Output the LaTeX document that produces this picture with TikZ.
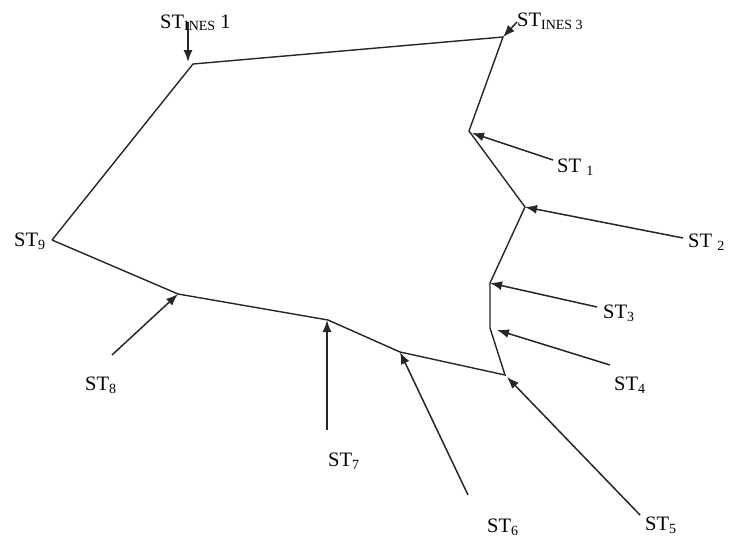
\documentclass[tikz,border=0pt]{standalone}
\usepackage{fontspec}
\setmainfont{Liberation Serif}
\usetikzlibrary{arrows.meta}
\newcommand\stsub[1]{\raisebox{-3pt}{\fontsize{14}{14}\selectfont #1}}
\begin{document}
\begin{tikzpicture}[x=1pt,y=-1pt,
  lbl/.style={anchor=base west,inner sep=0pt,font=\fontsize{20.5}{24}\selectfont},
  edge/.style={line width=1.4pt,line join=miter,draw=black!85},
  pointer/.style={line width=1.5pt,draw=black!85,-{Latex[length=12pt,width=9pt]}}]
\useasboundingbox (0,0) rectangle (738,546);
% vertices
\coordinate (A) at (193,64);
\coordinate (B) at (503,37);
\coordinate (C) at (469,131);
\coordinate (D) at (525,207);
\coordinate (E) at (490,283);
\coordinate (F) at (490,328);
\coordinate (G) at (505,375);
\coordinate (H) at (400,352);
\coordinate (I) at (328,320);
\coordinate (J) at (178,294);
\coordinate (K) at (52,240);
% outline
\draw[edge] (K) -- (A) -- (B) -- (C) -- (D) -- (E) -- (F) -- (G) -- (H) -- (I) -- (J) -- (K);
% labels
\node[lbl] (ines1) at (160,28) {ST\raisebox{-2pt}{\fontsize{14}{14}\selectfont INES} 1};
\node[lbl] (ines3) at (517,27) {ST\raisebox{-2pt}{\fontsize{14}{14}\selectfont INES 3}};
\node[lbl] (st1) at (557,172) {ST \stsub{1}};
\node[lbl] (st2) at (688,247) {ST \stsub{2}};
\node[lbl] (st3) at (603,318) {ST\stsub{3}};
\node[lbl] (st4) at (614,390) {ST\stsub{4}};
\node[lbl] (st5) at (645,530) {ST\stsub{5}};
\node[lbl] (st6) at (487,532) {ST\stsub{6}};
\node[lbl] (st7) at (328,466) {ST\stsub{7}};
\node[lbl] (st8) at (85,390) {ST\stsub{8}};
\node[lbl] (st9) at (14,246) {ST\stsub{9}};
% arrow tails
\coordinate (tI1) at (188,22);
\coordinate (tI3) at (517,22);
\coordinate (t1) at (553,160);
\coordinate (t2) at (683,238);
\coordinate (t3) at (597,307);
\coordinate (t4) at (610,365);
\coordinate (t5) at (640,515);
\coordinate (t6) at (468,495);
\coordinate (t7) at (327,430);
\coordinate (t8) at (112,355);
% arrows
\draw[pointer] (tI1) -- (188,62);
\draw[pointer] (tI3) -- (B);
\draw[pointer] (t1) -- (472,133);
\draw[pointer] (t2) -- (D);
\draw[pointer] (t3) -- (E);
\draw[pointer] (t4) -- (497,330);
\draw[pointer] (t5) -- (507,377);
\draw[pointer] (t6) -- (H);
\draw[pointer] (t7) -- (327,320);
\draw[pointer] (t8) -- (J);
\end{tikzpicture}
\end{document}
